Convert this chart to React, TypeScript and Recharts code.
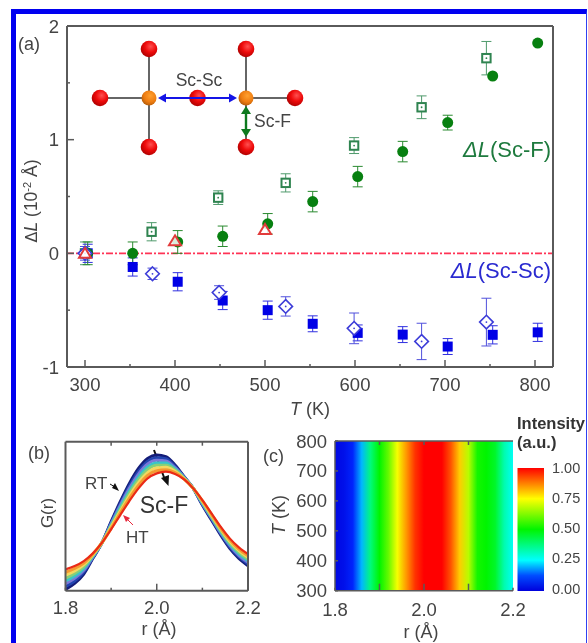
import React from 'react';
import {
  ScatterChart, Scatter, LineChart, Line, ComposedChart, XAxis, YAxis, ErrorBar,
  ReferenceLine, ReferenceArea,
} from 'recharts';

const FONT = '"Liberation Sans", Arial, sans-serif';
const INK = '#444';
const FRAME = '#5a5a5a';

// panel (a): bond length changes
const circleT = [303, 353, 403, 453, 503, 553, 603, 653, 703, 753, 803];
const circleV = [0, 0, 0.1, 0.15, 0.26, 0.455, 0.675, 0.895, 1.15, 1.56, 1.85];
const circleErr = [0.1, 0.1, 0.1, 0.09, 0.09, 0.09, 0.09, 0.09, 0.065, 0, 0];

const openSqT = [300, 374, 448, 523, 599, 674, 746];
const openSqV = [0, 0.19, 0.49, 0.62, 0.948, 1.285, 1.717];
const openSqErr = [0.1, 0.08, 0.06, 0.08, 0.07, 0.1, 0.147];

const triT = [300, 400, 500];
const triV = [0, 0.11, 0.21];

const blueSqT = [303, 353, 403, 453, 503, 553, 603, 653, 703, 753, 803];
const blueSqV = [0, -0.12, -0.25, -0.415, -0.5, -0.62, -0.7, -0.715, -0.82, -0.717, -0.695];
const blueSqErr = [0.08, 0.08, 0.08, 0.08, 0.08, 0.07, 0.07, 0.07, 0.07, 0.08, 0.08];

const diaT = [300, 375, 449, 523, 599, 674, 746];
const diaV = [0, -0.18, -0.345, -0.467, -0.66, -0.775, -0.605];
const diaErr = [0.06, 0.05, 0.06, 0.085, 0.135, 0.16, 0.21];

const xTicksA = [300, 350, 400, 450, 500, 550, 600, 650, 700, 750, 800];
const yTicksA = [-1, -0.5, 0, 0.5, 1, 1.5, 2];

const rows = (ts: number[], vs: number[], es?: number[]) =>
  ts.map((t, i) => ({ t, v: vs[i], err: es ? es[i] : 0 }));

// panel (b): G(r) curves from room temperature to high temperature
const rGrid = [1.8, 1.82, 1.84, 1.86, 1.88, 1.9, 1.92, 1.94, 1.96, 1.98, 2, 2.02, 2.04, 2.06, 2.08, 2.1, 2.12, 2.14, 2.16, 2.18, 2.2];
const g1 = [4, 22, 50, 97, 144, 207, 267, 322, 367, 397, 407, 402, 377, 342, 307, 257, 212, 167, 127, 97, 75];
const g2 = [13, 29, 56, 99, 144, 204, 261, 314, 358, 388, 399, 396, 373, 341, 307, 259, 215, 171, 131, 102, 80];
const g3 = [21, 37, 61, 101, 144, 200, 256, 307, 350, 380, 391, 389, 369, 340, 307, 261, 218, 174, 136, 106, 85];
const g4 = [30, 44, 67, 103, 144, 197, 250, 299, 341, 371, 383, 383, 365, 339, 307, 263, 221, 178, 140, 111, 90];
const g5 = [38, 52, 72, 106, 144, 194, 244, 292, 333, 363, 376, 376, 362, 337, 307, 266, 223, 181, 144, 116, 95];
const g6 = [47, 59, 78, 108, 144, 191, 238, 284, 324, 354, 368, 370, 358, 336, 307, 268, 226, 185, 148, 121, 100];
const g7 = [55, 67, 83, 110, 144, 187, 233, 277, 316, 346, 360, 363, 354, 335, 307, 270, 229, 188, 153, 125, 105];
const g8 = [64, 74, 89, 112, 144, 184, 227, 269, 307, 337, 352, 357, 350, 334, 307, 272, 232, 192, 157, 130, 110];
const curves = [g1, g2, g3, g4, g5, g6, g7, g8];
const curveColors = ['#141c78', '#2244b0', '#7a78d8', '#38c4c8', '#86d078', '#f4d860', '#f49a30', '#ea2a16'];
const gTable = rGrid.map((r, i) => {
  const row: Record<string, number> = { r };
  curves.forEach((c, k) => { row['g' + k] = c[i]; });
  return row;
});

// panel (c): intensity along r
const heatR = [1.8, 1.82, 1.84, 1.86, 1.88, 1.9, 1.92, 1.94, 1.96, 1.98, 2, 2.02, 2.04, 2.06, 2.08, 2.1, 2.12, 2.14, 2.16, 2.18, 2.2];
const heatI = [0.02, 0.04, 0.09, 0.2, 0.38, 0.5, 0.6, 0.74, 0.85, 0.95, 1, 1, 1, 0.92, 0.8, 0.68, 0.52, 0.5, 0.46, 0.33, 0.26];
const heatCorners = [{ t: 1.8, v: 300 }, { t: 2.2, v: 800 }];
const barLevels = [0, 0.125, 0.25, 0.375, 0.5, 0.625, 0.75, 0.875, 1];
const barTicks = [0, 0.25, 0.5, 0.75, 1];

const jetStops: [number, number[]][] = [
  [0, [0, 0, 220]], [0.1, [0, 40, 255]], [0.25, [0, 255, 255]], [0.5, [0, 245, 0]], [0.75, [255, 255, 0]], [1, [255, 0, 0]],
];
const jet = (v: number) => {
  for (let i = 1; i < jetStops.length; i++) {
    const [b, cb] = jetStops[i];
    const [a, ca] = jetStops[i - 1];
    if (v <= b) {
      const f = (v - a) / (b - a);
      return `rgb(${ca.map((c, k) => Math.round(c + (cb[k] - c) * f)).join(',')})`;
    }
  }
  return 'rgb(255,0,0)';
};

// inward ticks, the long ones carry a label
const bottomTick = (labels: number[], fmt: (v: number) => string, major: number[], dy = 24) => (p: any) => {
  const v = p.payload.value;
  const isMajor = major.includes(v);
  return (
    <g>
      <line x1={p.x} x2={p.x} y1={p.y} y2={p.y - (isMajor ? 7 : 3)} stroke={FRAME} strokeWidth={1.5} />
      {labels.includes(v) && (
        <text x={p.x} y={p.y + dy} textAnchor="middle" fontFamily={FONT} fontSize={18.5} fill={INK}>{fmt(v)}</text>
      )}
    </g>
  );
};
const topTick = (len: number) => (p: any) => (
  <line x1={p.x} x2={p.x} y1={p.y} y2={p.y + len} stroke={FRAME} strokeWidth={1.5} />
);
const leftTick = (labels: number[], fmt: (v: number) => string, major: number[]) => (p: any) => {
  const v = p.payload.value;
  return (
    <g>
      <line x1={p.x} x2={p.x + (major.includes(v) ? 7 : 3)} y1={p.y} y2={p.y} stroke={FRAME} strokeWidth={1.5} />
      {labels.includes(v) && (
        <text x={p.x - 8} y={p.y + 6.5} textAnchor="end" fontFamily={FONT} fontSize={18.5} fill={INK}>{fmt(v)}</text>
      )}
    </g>
  );
};

const Dot = ({ cx, cy, fill }: any) => <circle cx={cx} cy={cy} r={0.9} fill={fill} />;
const GreenCircle = (p: any) => <circle cx={p.cx} cy={p.cy} r={5.5} fill="#078010" />;
const BlueSquare = (p: any) => <rect x={p.cx - 5} y={p.cy - 5} width={10} height={10} fill="#0000e6" />;
const OpenSquare = (p: any) => (
  <g>
    <rect x={p.cx - 4.2} y={p.cy - 4.2} width={8.4} height={8.4} fill="#fff" stroke="#2f8450" strokeWidth={2} />
    <Dot cx={p.cx} cy={p.cy} fill="#2f8450" />
  </g>
);
const OpenDiamond = (p: any) => (
  <g>
    <path d={`M${p.cx} ${p.cy - 6.8}L${p.cx + 6.8} ${p.cy}L${p.cx} ${p.cy + 6.8}L${p.cx - 6.8} ${p.cy}Z`} fill="#fff" stroke="#3c3cd8" strokeWidth={1.6} />
    <Dot cx={p.cx} cy={p.cy} fill="#3c3cd8" />
  </g>
);
const OpenTriangle = (p: any) => (
  <path d={`M${p.cx} ${p.cy - 5.5}L${p.cx + 6} ${p.cy + 4.5}L${p.cx - 6} ${p.cy + 4.5}Z`} fill="#fff" fillOpacity={0.85} stroke="#e23b3b" strokeWidth={2} />
);

const Atom = ({ x, y, kind }: { x: number; y: number; kind: string }) => (
  <circle cx={x} cy={y} r={kind === 'sc' ? 7.5 : 8.3} fill={`url(#atom-${kind})`} />
);

const Structure = () => {
  const bonds = [
    [149, 49, 149, 147], [246, 49, 246, 147], [100, 98, 149, 98], [246, 98, 295, 98],
  ];
  const fluorine = [[149, 49], [246, 49], [100, 98], [197.5, 98], [295, 98], [149, 147], [246, 147]];
  return (
    <g>
      <defs>
        <radialGradient id="atom-f" cx="0.6" cy="0.35" r="0.7">
          <stop offset="0" stopColor="#ff5050" />
          <stop offset="0.5" stopColor="#ee0a0a" />
          <stop offset="1" stopColor="#a80000" />
        </radialGradient>
        <radialGradient id="atom-sc" cx="0.6" cy="0.35" r="0.7">
          <stop offset="0" stopColor="#ffa030" />
          <stop offset="0.6" stopColor="#ee7c10" />
          <stop offset="1" stopColor="#b05a08" />
        </radialGradient>
      </defs>
      {bonds.map((b, i) => <line key={i} x1={b[0]} y1={b[1]} x2={b[2]} y2={b[3]} stroke="#666" strokeWidth={2} />)}
      {fluorine.map((a, i) => <Atom key={i} x={a[0]} y={a[1]} kind="f" />)}
      <Atom x={149} y={98} kind="sc" />
      <Atom x={246} y={98} kind="sc" />
      <line x1={163} y1={98} x2={232} y2={98} stroke="#1414e6" strokeWidth={2} />
      <path d="M158 98L166 93.5L166 102.5Z M237 98L229 93.5L229 102.5Z" fill="#1414e6" />
      <line x1={246} y1={112} x2={246} y2={132} stroke="#0d7a1e" strokeWidth={2.4} />
      <path d="M246 106L241 114L251 114Z M246 137L241 129L251 129Z" fill="#0d7a1e" />
      <text x={199} y={86} textAnchor="middle" fontFamily={FONT} fontSize={17.5} fill={INK}>Sc-Sc</text>
      <text x={254} y={127} fontFamily={FONT} fontSize={17.5} fill={INK}>Sc-F</text>
    </g>
  );
};

const PanelA = () => (
  <ScatterChart width={588} height={425} margin={{ top: 25, left: 66, right: 34, bottom: 57 }} style={{ position: 'absolute', left: 0, top: 0 }}>
    <XAxis type="number" dataKey="t" xAxisId="b" height={1} domain={[280, 820]} ticks={xTicksA} tickSize={0} tickMargin={0} interval={0}
      axisLine={{ stroke: FRAME, strokeWidth: 2 }} tickLine={false}
      tick={bottomTick([300, 400, 500, 600, 700, 800], (v) => String(v), [300, 400, 500, 600, 700, 800], 24)} />
    <XAxis type="number" dataKey="t" xAxisId="top" orientation="top" height={1} domain={[280, 820]} tick={false} tickLine={false} axisLine={{ stroke: FRAME, strokeWidth: 2 }} />
    <YAxis type="number" dataKey="v" yAxisId="l" width={1} domain={[-1, 2]} ticks={yTicksA} tickSize={0} tickMargin={0} interval={0}
      axisLine={{ stroke: FRAME, strokeWidth: 2 }} tickLine={false}
      tick={leftTick([-1, 0, 1, 2], (v) => String(v), [-1, 0, 1, 2])} />
    <YAxis type="number" dataKey="v" yAxisId="r" orientation="right" width={1} domain={[-1, 2]} tick={false} tickLine={false} axisLine={{ stroke: FRAME, strokeWidth: 2 }} />
    <ReferenceLine xAxisId="b" yAxisId="l" y={0} stroke="#ff3355" strokeWidth={1.8} strokeDasharray="7 2 2 2" />
    <Scatter xAxisId="b" yAxisId="l" data={rows(openSqT, openSqV, openSqErr)} shape={OpenSquare} isAnimationActive={false}>
      <ErrorBar dataKey="err" direction="y" width={5} stroke="#4f9a6c" strokeWidth={1} isAnimationActive={false} />
    </Scatter>
    <Scatter xAxisId="b" yAxisId="l" data={rows(blueSqT, blueSqV, blueSqErr)} shape={BlueSquare} isAnimationActive={false}>
      <ErrorBar dataKey="err" direction="y" width={5} stroke="#3030e0" strokeWidth={1} isAnimationActive={false} />
    </Scatter>
    <Scatter xAxisId="b" yAxisId="l" data={rows(circleT, circleV, circleErr)} shape={GreenCircle} isAnimationActive={false}>
      <ErrorBar dataKey="err" direction="y" width={5} stroke="#2a8a30" strokeWidth={1} isAnimationActive={false} />
    </Scatter>
    <Scatter xAxisId="b" yAxisId="l" data={rows(diaT, diaV, diaErr)} shape={OpenDiamond} isAnimationActive={false}>
      <ErrorBar dataKey="err" direction="y" width={5} stroke="#5050dc" strokeWidth={1} isAnimationActive={false} />
    </Scatter>
    <Scatter xAxisId="b" yAxisId="l" data={rows(triT, triV)} shape={OpenTriangle} isAnimationActive={false} />
    <Structure />
    <text x={18} y={50} fontFamily={FONT} fontSize={18} fill={INK}>(a)</text>
    <text transform="translate(37 201) rotate(-90)" textAnchor="middle" fontFamily={FONT} fontSize={17.5} fill={INK}>
      <tspan fontFamily='"DejaVu Sans"' fontSize={16}>Δ</tspan>
      <tspan fontStyle="italic">L</tspan>
      <tspan> (10</tspan>
      <tspan fontSize={11} dy={-6}>-2</tspan>
      <tspan dy={6}> Å)</tspan>
    </text>
    <text x={310} y={415} textAnchor="middle" fontFamily={FONT} fontSize={18} fill={INK}>
      <tspan fontStyle="italic">T</tspan> (K)
    </text>
    <text x={551} y={157} textAnchor="end" fontFamily={FONT} fontSize={22} fill="#1e7a3e">
      <tspan fontStyle="italic">ΔL</tspan>(Sc-F)
    </text>
    <text x={551} y={278} textAnchor="end" fontFamily={FONT} fontSize={22} fill="#2a2ad0">
      <tspan fontStyle="italic">ΔL</tspan>(Sc-Sc)
    </text>
  </ScatterChart>
);

const PanelB = () => (
  <LineChart data={gTable} width={280} height={223} margin={{ top: 20.7, left: 64.5, right: 31, bottom: 51.3 }} style={{ position: 'absolute', left: 0, top: 420 }}>
    <XAxis type="number" dataKey="r" xAxisId="b" height={1} domain={[1.8, 2.2]} ticks={[1.8, 1.9, 2, 2.1, 2.2]} tickSize={0} tickMargin={0} interval={0}
      axisLine={{ stroke: FRAME, strokeWidth: 2 }} tickLine={false}
      tick={bottomTick([1.8, 2, 2.2], (v) => v.toFixed(1), [2], 23)} />
    <XAxis type="number" dataKey="r" xAxisId="top" orientation="top" height={1} domain={[1.8, 2.2]} ticks={[1.9, 2, 2.1]} tickSize={0} tickMargin={0} interval={0}
      axisLine={{ stroke: FRAME, strokeWidth: 2 }} tickLine={false} tick={topTick(4)} />
    <YAxis yAxisId="l" width={1} domain={[0, 447]} tick={false} tickLine={false} axisLine={{ stroke: FRAME, strokeWidth: 2 }} />
    <YAxis yAxisId="r" orientation="right" width={1} domain={[0, 447]} tick={false} tickLine={false} axisLine={{ stroke: FRAME, strokeWidth: 2 }} />
    {curves.map((_, k) => (
      <Line key={k} xAxisId="b" yAxisId="l" dataKey={'g' + k} type="monotone" dot={false} stroke={curveColors[k]} strokeWidth={k === 7 ? 2.2 : 3} isAnimationActive={false} />
    ))}
    <text x={28} y={39} fontFamily={FONT} fontSize={18} fill={INK}>(b)</text>
    <text transform="translate(53 93) rotate(-90)" textAnchor="middle" fontFamily={FONT} fontSize={17} fill={INK}>G(r)</text>
    <text x={159} y={215} textAnchor="middle" fontFamily={FONT} fontSize={18} fill={INK}>r (Å)</text>
    <text x={85} y={69} fontFamily={FONT} fontSize={17} fill={INK}>RT</text>
    <text x={126} y={123} fontFamily={FONT} fontSize={17} fill={INK}>HT</text>
    <text x={164} y={93} textAnchor="middle" fontFamily={FONT} fontSize={23} fill="#333">Sc-F</text>
    <line x1={154} y1={30} x2={165} y2={60} stroke="#111" strokeWidth={2} />
    <path d="M168.5 66L161 58L169 55Z" fill="#111" />
    <line x1={110} y1={64} x2={115} y2={67} stroke="#111" strokeWidth={1} />
    <path d="M119 71L112 68L115 63Z" fill="#111" />
    <line x1={133} y1={105} x2={127} y2={99} stroke="#e8283c" strokeWidth={1} />
    <path d="M123 95L130 98L126 102Z" fill="#e8283c" />
  </LineChart>
);

const PanelC = () => (
  <ComposedChart data={heatCorners} width={333} height={223} margin={{ top: 20, left: 79, right: 75, bottom: 51.3 }} style={{ position: 'absolute', left: 255, top: 420 }}>
    <defs>
      <linearGradient id="heat" x1="0" x2="1" y1="0" y2="0">
        {heatR.map((r, i) => <stop key={i} offset={(r - 1.8) / 0.4} stopColor={jet(heatI[i])} />)}
      </linearGradient>
    </defs>
    <XAxis type="number" dataKey="t" xAxisId="b" height={1} domain={[1.8, 2.2]} ticks={[1.8, 1.9, 2, 2.1, 2.2]} tickSize={0} tickMargin={0} interval={0}
      axisLine={{ stroke: FRAME, strokeWidth: 1.5 }} tickLine={false}
      tick={bottomTick([1.8, 2, 2.2], (v) => v.toFixed(1), [1.9, 2, 2.1], 25)} />
    <XAxis type="number" dataKey="t" xAxisId="top" orientation="top" height={1} domain={[1.8, 2.2]} ticks={[1.9, 2, 2.1]} tickSize={0} tickMargin={0} interval={0}
      axisLine={{ stroke: FRAME, strokeWidth: 1.5 }} tickLine={false} tick={topTick(4)} />
    <YAxis type="number" dataKey="v" yAxisId="l" width={1} domain={[300, 800]} ticks={[300, 400, 500, 600, 700, 800]} tickSize={0} tickMargin={0} interval={0}
      axisLine={{ stroke: FRAME, strokeWidth: 1.5 }} tickLine={false}
      tick={leftTick([300, 400, 500, 600, 700, 800], (v) => String(v), [])} />
    <ReferenceArea xAxisId="b" yAxisId="l" x1={1.8} x2={2.2} y1={300} y2={800} fill="url(#heat)" fillOpacity={1} stroke="none" />
    <text x={8} y={42} fontFamily={FONT} fontSize={18} fill={INK}>(c)</text>
    <text transform="translate(30 95) rotate(-90)" textAnchor="middle" fontFamily={FONT} fontSize={18} fill={INK}>
      <tspan fontStyle="italic">T</tspan> (K)
    </text>
    <text x={166} y={218} textAnchor="middle" fontFamily={FONT} fontSize={18} fill={INK}>r (Å)</text>
    <line x1={168} y1={150} x2={176.5} y2={42} stroke="#111" strokeWidth={2.2} />
    <path d="M177.5 33L171 44L183 44.5Z" fill="#111" />
  </ComposedChart>
);

const ColorBar = () => (
  <ComposedChart data={barLevels.map((v) => ({ x: 0, v }))} width={70} height={140} margin={{ top: 8, left: 7.5, right: 35, bottom: 9 }} style={{ position: 'absolute', left: 510, top: 460 }}>
    <defs>
      <linearGradient id="bar" x1="0" x2="0" y1="1" y2="0">
        {barLevels.map((v, i) => <stop key={i} offset={v} stopColor={jet(v)} />)}
      </linearGradient>
    </defs>
    <XAxis type="number" dataKey="x" hide domain={[0, 1]} />
    <YAxis type="number" dataKey="v" orientation="right" width={1} domain={[-0.02, 1]} ticks={barTicks} tickSize={0} tickMargin={0} interval={0}
      axisLine={false} tickLine={false}
      tick={(p: any) => (
        <text x={p.x + 8} y={p.y + 5} fontFamily={FONT} fontSize={14.5} fill={INK}>{p.payload.value.toFixed(2)}</text>
      )} />
    <ReferenceArea x1={0} x2={1} y1={-0.02} y2={1} fill="url(#bar)" fillOpacity={1} stroke="none" />
  </ComposedChart>
);

export default function App() {
  return (
    <div style={{ position: 'absolute', left: 0, top: 0, width: 588, height: 643, background: '#fff', overflow: 'hidden', filter: 'blur(0.4px)' }}>
      <div style={{ position: 'absolute', left: 11, top: 9, width: 570, height: 640, borderLeft: '5px solid #0000f0', borderTop: '5px solid #0000f0', borderRight: '1px solid #3040f0' }} />
      <PanelA />
      <PanelB />
      <PanelC />
      <ColorBar />
      <div style={{ position: 'absolute', left: 517, top: 414, fontFamily: FONT, fontWeight: 'bold', fontSize: 16.5, lineHeight: '19px', color: '#333' }}>
        Intensity<br />(a.u.)
      </div>
    </div>
  );
}
